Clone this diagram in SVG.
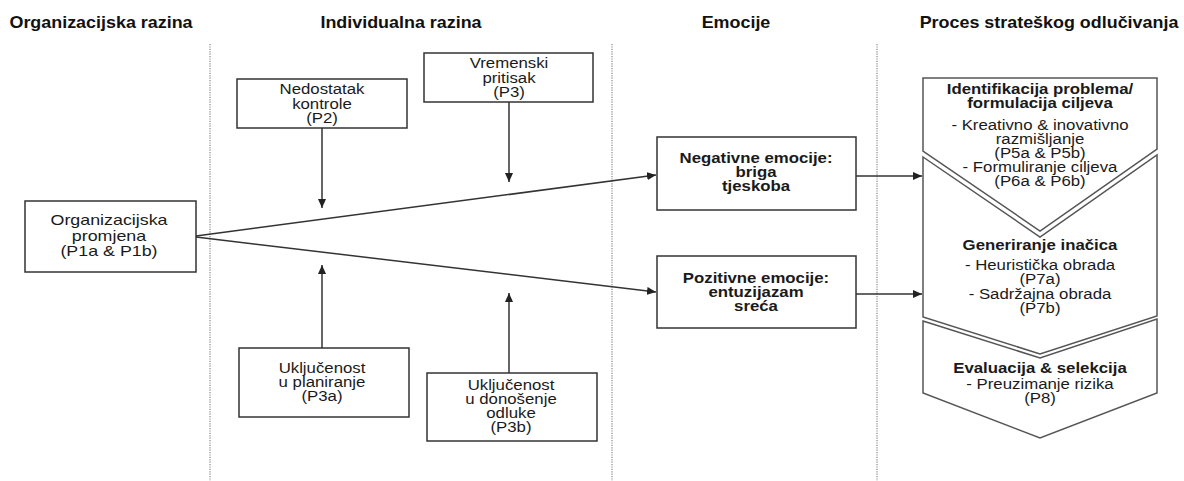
<svg xmlns="http://www.w3.org/2000/svg" width="1184" height="481" viewBox="0 0 1184 481">
<defs>
<marker id="ah" markerUnits="userSpaceOnUse" markerWidth="9" markerHeight="8" refX="9" refY="4" orient="auto">
<path d="M0,0 L9,4 L0,8 Z" fill="#222"/>
</marker>
<style>
.bg{fill:#fff}
.box{fill:#fff;stroke:#333;stroke-width:1.5}
.chev{fill:#fff;stroke:#555;stroke-width:1.5;stroke-linejoin:miter}
.sep{stroke:#888;stroke-width:1.2;stroke-dasharray:1.2 1.2;fill:none}
.ln{stroke:#333;stroke-width:1.5;fill:none}
.t{font-family:"Liberation Sans",Arial,sans-serif;font-size:15px;fill:#1a1a1a;text-anchor:middle}
.s{font-size:14.5px}
.b{font-weight:bold}
.h{font-family:"Liberation Sans",Arial,sans-serif;font-size:16px;font-weight:bold;fill:#111;text-anchor:middle}
</style>
</defs>
<rect class="bg" x="0" y="0" width="1184" height="481"/>

<g id="headers">
<g transform="translate(101 0) scale(1.12 1)"><text class="h" x="0" y="28">Organizacijska razina</text></g>
<g transform="translate(401 0) scale(1.12 1)"><text class="h" x="0" y="28">Individualna razina</text></g>
<g transform="translate(736 0) scale(1.12 1)"><text class="h" x="0" y="28">Emocije</text></g>
<g transform="translate(1049 0) scale(1.12 1)"><text class="h" x="0" y="28">Proces strateškog odlučivanja</text></g>
</g>

<g id="separators">
<line class="sep" x1="210" y1="44" x2="210" y2="481"/>
<line class="sep" x1="612" y1="44" x2="612" y2="481"/>
<line class="sep" x1="877" y1="44" x2="877" y2="481"/>
</g>

<g id="connectors">
<line class="ln" x1="196" y1="236" x2="656" y2="175" marker-end="url(#ah)"/>
<line class="ln" x1="196" y1="237" x2="656" y2="292" marker-end="url(#ah)"/>
<line class="ln" x1="322" y1="128" x2="322" y2="208" marker-end="url(#ah)"/>
<line class="ln" x1="509" y1="102" x2="509" y2="182" marker-end="url(#ah)"/>
<line class="ln" x1="322" y1="348" x2="322" y2="265" marker-end="url(#ah)"/>
<line class="ln" x1="509" y1="373" x2="509" y2="293" marker-end="url(#ah)"/>
<line class="ln" x1="856" y1="176" x2="922" y2="176" marker-end="url(#ah)"/>
<line class="ln" x1="856" y1="294" x2="922" y2="294" marker-end="url(#ah)"/>
</g>

<g id="org-promjena">
<rect class="box" x="25" y="201" width="171" height="71"/>
<g transform="translate(109 0) scale(1.23 1)"><text class="t s"><tspan x="0" y="225.5">Organizacijska</tspan><tspan x="0" y="241">promjena</tspan><tspan x="0" y="256.5">(P1a &amp; P1b)</tspan></text></g>
</g>

<g id="nedostatak-kontrole">
<rect class="box" x="237" y="79" width="170" height="49"/>
<g transform="translate(322 0) scale(1.12 1)"><text class="t"><tspan x="0" y="94">Nedostatak</tspan><tspan x="0" y="109">kontrole</tspan><tspan x="0" y="123">(P2)</tspan></text></g>
</g>

<g id="vremenski-pritisak">
<rect class="box" x="424" y="53" width="169" height="49"/>
<g transform="translate(509 0) scale(1.12 1)"><text class="t"><tspan x="0" y="68">Vremenski</tspan><tspan x="0" y="83">pritisak</tspan><tspan x="0" y="97">(P3)</tspan></text></g>
</g>

<g id="ukljucenost-planiranje">
<rect class="box" x="239" y="348" width="170" height="69"/>
<g transform="translate(322 0) scale(1.12 1)"><text class="t"><tspan x="0" y="373">Uključenost</tspan><tspan x="0" y="387">u planiranje</tspan><tspan x="0" y="401">(P3a)</tspan></text></g>
</g>

<g id="ukljucenost-odluke">
<rect class="box" x="427" y="373" width="170" height="68"/>
<g transform="translate(511 0) scale(1.12 1)"><text class="t"><tspan x="0" y="390">Uključenost</tspan><tspan x="0" y="404">u donošenje</tspan><tspan x="0" y="418">odluke</tspan><tspan x="0" y="432">(P3b)</tspan></text></g>
</g>

<g id="negativne-emocije">
<rect class="box" x="657" y="137" width="199" height="73"/>
<g transform="translate(756 0) scale(1.12 1)"><text class="t b"><tspan x="0" y="163">Negativne emocije:</tspan><tspan x="0" y="177">briga</tspan><tspan x="0" y="191">tjeskoba</tspan></text></g>
</g>

<g id="pozitivne-emocije">
<rect class="box" x="657" y="256" width="199" height="72"/>
<g transform="translate(756 0) scale(1.12 1)"><text class="t b"><tspan x="0" y="283">Pozitivne emocije:</tspan><tspan x="0" y="297">entuzijazam</tspan><tspan x="0" y="311">sreća</tspan></text></g>
</g>

<g id="evaluacija-selekcija">
<polygon class="chev" points="923,321 1040,358 1157,319 1157,393 1040,438 923,393"/>
<g transform="translate(1040 0) scale(1.12 1)"><text class="t"><tspan class="b" x="0" y="373">Evaluacija &amp; selekcija</tspan><tspan x="0" y="389">- Preuzimanje rizika</tspan><tspan x="0" y="403">(P8)</tspan></text></g>
</g>

<g id="generiranje-inacica">
<polygon class="chev" points="923,157 1040,237 1157,155 1157,316 1040,354 923,317"/>
<g transform="translate(1040 0) scale(1.12 1)"><text class="t"><tspan class="b" x="0" y="250">Generiranje inačica</tspan><tspan x="0" y="270">- Heuristička obrada</tspan><tspan x="0" y="284">(P7a)</tspan><tspan x="0" y="299">- Sadržajna obrada</tspan><tspan x="0" y="313">(P7b)</tspan></text></g>
</g>

<g id="identifikacija-problema">
<polygon class="chev" points="923,78 1157,78 1157,149 1040,231 923,151" fill-opacity="0"/>
<g transform="translate(1040 0) scale(1.12 1)"><text class="t"><tspan class="b" x="0" y="94">Identifikacija problema/</tspan><tspan class="b" x="0" y="108">formulacija ciljeva</tspan><tspan x="0" y="130">- Kreativno &amp; inovativno</tspan><tspan x="0" y="144">razmišljanje</tspan><tspan x="0" y="158">(P5a &amp; P5b)</tspan><tspan x="0" y="172">- Formuliranje ciljeva</tspan><tspan x="0" y="186">(P6a &amp; P6b)</tspan></text></g>
</g>
</svg>
